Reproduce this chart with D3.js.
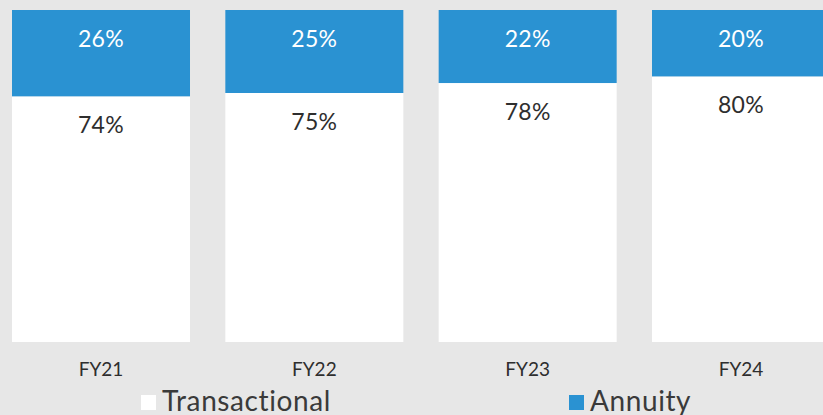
<!DOCTYPE html>
<html>
<head>
<meta charset="utf-8">
<script src="https://cdn.jsdelivr.net/npm/d3@7/dist/d3.min.js"></script>
<style>
  html, body { margin: 0; padding: 0; background: #e7e7e7; overflow: hidden; }
  svg { display: block; }
  text { font-family: "Lato", "Open Sans", sans-serif; }
</style>
</head>
<body>
<svg id="chart" width="823" height="415"></svg>
<script>
// Revenue mix by fiscal year (percent of total)
const categories = ["FY21", "FY22", "FY23", "FY24"];
const transactional = [74, 75, 78, 80];
const annuity = [26, 25, 22, 20];
const seriesNames = ["Transactional", "Annuity"];

const colors = { Transactional: "#ffffff", Annuity: "#2a92d2" };

const W = 823, H = 415;
const svg = d3.select("#chart");

svg.append("rect").attr("width", W).attr("height", H).attr("fill", "#e7e7e7");

const x = d3.scaleBand()
  .domain(categories)
  .range([12, 830])
  .paddingInner(0.1656)
  .paddingOuter(0);

const y = d3.scaleLinear().domain([0, 100]).range([342, 10]);

const rows = categories.map((c, i) => ({ cat: c, Transactional: transactional[i], Annuity: annuity[i] }));
const stacked = d3.stack().keys(seriesNames)(rows);

const g = svg.append("g");

stacked.forEach(layer => {
  const key = layer.key;
  g.selectAll(null)
    .data(layer)
    .enter()
    .append("rect")
    .attr("x", d => x(d.data.cat))
    .attr("width", x.bandwidth())
    .attr("y", d => y(d[1]))
    .attr("height", d => y(d[0]) - y(d[1]))
    .attr("fill", colors[key]);

  // value labels near the top of each segment
  g.selectAll(null)
    .data(layer)
    .enter()
    .append("text")
    .attr("x", d => x(d.data.cat) + x.bandwidth() / 2)
    .attr("y", d => y(d[1]) + 37)
    .attr("text-anchor", "middle")
    .attr("font-size", 23)
    .attr("font-weight", 400)
    .attr("letter-spacing", 0.3)
    .attr("fill", key === "Annuity" ? "#ffffff" : "#2e2e2e")
    .text(d => (d.data[key]) + "%");
});

// category axis
const axis = d3.axisBottom(x).tickSize(0).tickPadding(0);
const axisG = svg.append("g")
  .attr("transform", "translate(0,342)")
  .call(axis);
axisG.select(".domain").remove();
axisG.selectAll("text")
  .attr("dy", null)
  .attr("y", 34)
  .attr("font-size", 19)
  .attr("font-family", "Lato, 'Open Sans', sans-serif")
  .attr("fill", "#2e2e2e");

// legend
const legendItems = [
  { name: "Transactional", sx: 141, tx: 162 },
  { name: "Annuity", sx: 569, tx: 590 }
];
const lg = svg.append("g");
legendItems.forEach(it => {
  lg.append("rect")
    .attr("x", it.sx).attr("y", 395)
    .attr("width", 15).attr("height", 15)
    .attr("fill", colors[it.name]);
  lg.append("text")
    .attr("x", it.tx).attr("y", 410.5)
    .attr("font-size", 28)
    .attr("letter-spacing", 0.6)
    .attr("fill", "#3a3a3a")
    .text(it.name);
});
</script>
</body>
</html>
